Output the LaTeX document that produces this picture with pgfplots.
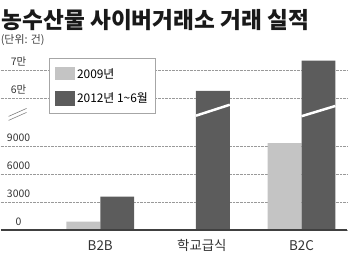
\documentclass[border=0pt]{standalone}
\usepackage{fontspec}
\setmainfont{Noto Sans CJK KR}
\usepackage{pgfplots}
\pgfplotsset{compat=1.18}
\definecolor{light}{HTML}{C4C4C4}
\definecolor{dark}{HTML}{5C5C5C}
\begin{document}
\begin{tikzpicture}
\begin{axis}[
 scale only axis, width=348bp, height=255bp,
 xmin=0, xmax=348, ymin=-24.3, ymax=230.7,
 axis line style={draw=none},
 major tick length=0pt,
 clip=false,
 y filter/.expression={y<=20000 ? y*28/3000 : 132.4+(y-60000)*0.00276},
 ytick={0,28,56,84,132.4,160},
 yticklabels={0,3000,6000,9000,6만,7만},
 yticklabel style={font=\fontsize{10.5}{12}\selectfont, text=black!80, anchor=base, xshift=18bp, yshift=5bp},
 ymajorgrids,
 grid style={densely dotted, gray!80, line width=0.6bp},
 xtick={100,202,302},
 xticklabels={B2B,학교급식,B2C},
 xticklabel style={font=\fontsize{13.5}{15}\selectfont, text=black!80, anchor=base, yshift=3.3bp},
 legend style={at={(axis cs:48.3,172.7)}, anchor=north west, draw=gray!70, line width=0.8bp, fill=white,
   inner xsep=6bp, inner ysep=8bp, row sep=9bp, font=\fontsize{12}{13}\selectfont, nodes={inner sep=2bp},
   legend cell align=left},
 bar width=34,
]
\addplot[ybar, fill=light, draw=none, bar shift=-17,
  legend image code/.code={\fill[light] (0bp,-6.5bp) rectangle (20bp,6.5bp);}]
  coordinates {(100,900) (302,9350)};
\addlegendentry{2009년}
\addplot[ybar, fill=dark, draw=none, bar shift=17,
  legend image code/.code={\fill[dark] (0bp,-7.5bp) rectangle (20bp,7.5bp);}]
  coordinates {(100,3600) (196,62600) (302,73600)};
\addlegendentry{2012년 1\textasciitilde6월}
\draw[black!75, line width=1.2bp] (axis cs:0,0) -- (axis cs:348,0);
\draw[white, line width=2.5bp] (axis cs:196,114.7) -- (axis cs:230,125.7);
\draw[white, line width=2.5bp] (axis cs:302,114.2) -- (axis cs:336,124.5);
\draw[gray, line width=0.6bp] (axis cs:8,110) -- (axis cs:26,118);
\draw[gray, line width=0.6bp] (axis cs:8,114) -- (axis cs:26,122);
\node[anchor=base west, inner sep=0, font=\fontsize{22.8}{24}\selectfont\bfseries, text=black!90] at (axis cs:1,202.7) {농수산물 사이버거래소 거래 실적};
\node[anchor=base west, inner sep=0, font=\fontsize{11}{12}\selectfont, text=black!75] at (axis cs:0,186.7) {(단위: 건)};
\end{axis}
\end{tikzpicture}
\end{document}
